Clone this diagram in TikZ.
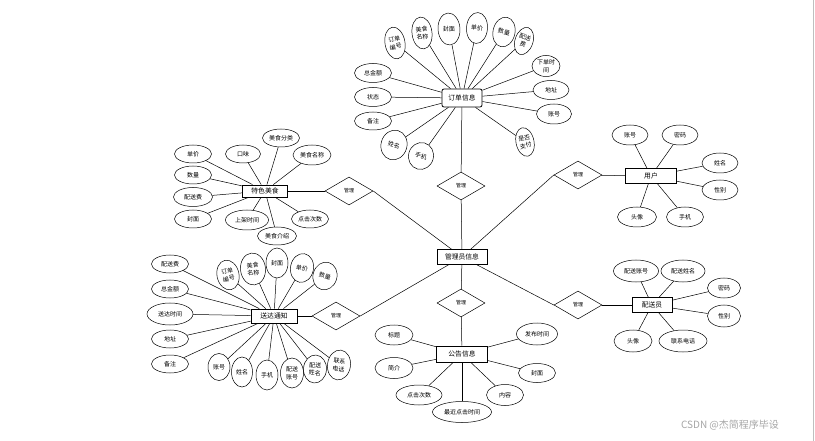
\documentclass[tikz,border=0pt]{standalone}
\usepackage{fontspec}
\setmainfont{Noto Sans CJK SC}
\usetikzlibrary{shapes.geometric}
\newcommand{\fsa}{\fontsize{6}{7.6}\selectfont}
\newcommand{\fsb}{\fontsize{5}{6}\selectfont}
\newcommand{\fsc}{\fontsize{6.8}{8}\selectfont}
\tikzset{
  sz/.style 2 args={minimum width=#1pt, minimum height=#2pt},
  attr/.style={ellipse, draw, line width=0.5pt, inner sep=0pt, align=center, font=\fsa},
  ent/.style={rectangle, draw, line width=0.8pt, inner sep=0pt, font=\fsc},
  rel/.style={diamond, draw, line width=0.5pt, inner sep=0pt, minimum width=48pt, minimum height=28pt, font=\fsb},
  link/.style={line width=0.5pt},
}
\begin{document}
\begin{tikzpicture}[x=1pt,y=-1pt]
\useasboundingbox (0,0) rectangle (815,441);
\fill[white] (0,0) rectangle (815,441);
\draw[black!25, line width=1pt] (813,0) -- (813,441);

% central entity and relations
\node[ent, sz={50}{15}] (M) at (462,257) {管理员信息};
\node[rel] (rT) at (461,186) {管理};
\node[rel] (rB) at (461,303) {管理};
\node[rel] (rL1) at (349,191) {管理};
\node[rel] (rL2) at (336,316) {管理};
\node[rel] (rR1) at (578,175) {管理};
\node[rel] (rR2) at (578,305) {管理};

% entities
\node[ent, sz={40}{18}, rounded corners=2pt] (O) at (462,98) {订单信息};
\node[ent, sz={45}{12}] (F) at (265,191) {特色美食};
\node[ent, sz={46}{14}] (S) at (274,316) {送达通知};
\node[ent, sz={51}{16}] (G) at (462,354) {公告信息};
\node[ent, sz={51}{15}] (U) at (651,176) {用户};
\node[ent, sz={40}{15}] (P) at (652,305) {配送员};

% order attributes
\node[attr, sz={20}{32}, rotate=10] (o1) at (395,43) {订单\\编号};
\node[attr, sz={20}{32}, rotate=7] (o2) at (422,33) {美食\\名称};
\node[attr, sz={22}{32}, rotate=4] (o3) at (449,29) {封面};
\node[attr, sz={21}{31}, rotate=-4] (o4) at (477,28) {单价};
\node[attr, sz={22}{30}, rotate=-12] (o5) at (504,32) {数量};
\node[attr, sz={18}{28}, rotate=-18] (o6) at (524,41) {配送\\费};
\node[attr, sz={28}{21}] (o7) at (546,66) {下单时\\间};
\node[attr, sz={36}{19}] (o8) at (551,90) {地址};
\node[attr, sz={35}{20}] (o9) at (554,114) {账号};
\node[attr, sz={18}{29}, rotate=12] (o10) at (525,142) {是否\\支付};
\node[attr, sz={25}{27}, rotate=-15] (o11) at (421,156) {手机};
\node[attr, sz={26}{30}, rotate=-15] (o12) at (394,145) {姓名};
\node[attr, sz={37}{18}] (o13) at (373,121) {备注};
\node[attr, sz={37}{19}] (o14) at (373,97) {状态};
\node[attr, sz={37}{19}] (o15) at (373,73) {总金额};
\foreach \i in {1,...,15} \draw[link] (O) -- (o\i);

% food attributes
\node[attr, sz={37}{18}] (f1) at (193,154) {单价};
\node[attr, sz={35}{18}] (f2) at (243,154) {口味};
\node[attr, sz={37}{18}] (f3) at (281,138) {美食分类};
\node[attr, sz={38}{20}] (f4) at (312,155) {美食名称};
\node[attr, sz={37}{18}] (f5) at (193,175) {数量};
\node[attr, sz={39}{19}] (f6) at (193,197) {配送费};
\node[attr, sz={37}{18}] (f7) at (193,219) {封面};
\node[attr, sz={43}{20}] (f8) at (247,220) {上架时间};
\node[attr, sz={39}{18}] (f9) at (277,236) {美食介绍};
\node[attr, sz={37}{18}] (f10) at (310,219) {点击次数};
\foreach \i in {1,...,10} \draw[link] (F) -- (f\i);

% delivery notice attributes
\node[attr, sz={37}{18}] (s1) at (170,264) {配送费};
\node[attr, sz={37}{18}] (s2) at (170,289) {总金额};
\node[attr, sz={46}{22}] (s3) at (170,314) {送达时间};
\node[attr, sz={37}{18}] (s4) at (170,339) {地址};
\node[attr, sz={37}{18}] (s5) at (170,364) {备注};
\node[attr, sz={22}{30}, rotate=12] (s6) at (228,275) {订单\\编号};
\node[attr, sz={25}{32}, rotate=6] (s7) at (253,269) {美食\\名称};
\node[attr, sz={22}{30}] (s8) at (277,263) {封面};
\node[attr, sz={23}{29}, rotate=-10] (s9) at (302,268) {单价};
\node[attr, sz={24}{28}, rotate=-15] (s10) at (325,276) {数量};
\node[attr, sz={22}{27}] (s11) at (219,367) {账号};
\node[attr, sz={21}{30}] (s12) at (242,372) {姓名};
\node[attr, sz={22}{30}] (s13) at (267,375) {手机};
\node[attr, sz={23}{30}] (s14) at (292,373) {配送\\账号};
\node[attr, sz={23}{28}, rotate=-4] (s15) at (315,369) {配送\\姓名};
\node[attr, sz={23}{30}, rotate=-8] (s16) at (339,365) {联系\\电话};
\foreach \i in {1,...,16} \draw[link] (S) -- (s\i);

% notice attributes
\node[attr, sz={38}{20}] (g1) at (394,335) {标题};
\node[attr, sz={38}{21}] (g2) at (394,368) {简介};
\node[attr, sz={46}{20}] (g3) at (419,395) {点击次数};
\node[attr, sz={59}{21}] (g4) at (462,412) {最近点击时间};
\node[attr, sz={37}{21}] (g5) at (505,395) {内容};
\node[attr, sz={37}{19}] (g6) at (537,373) {封面};
\node[attr, sz={41}{22}] (g7) at (537,334) {发布时间};
\foreach \i in {1,...,7} \draw[link] (G) -- (g\i);

% user attributes
\node[attr, sz={36}{20}] (u1) at (630,135) {账号};
\node[attr, sz={36}{20}] (u2) at (680,135) {密码};
\node[attr, sz={36}{20}] (u3) at (720,163) {姓名};
\node[attr, sz={36}{20}] (u4) at (720,190) {性别};
\node[attr, sz={39}{20}] (u5) at (637,217) {头像};
\node[attr, sz={37}{20}] (u6) at (685,217) {手机};
\foreach \i in {1,...,6} \draw[link] (U) -- (u\i);

% courier attributes
\node[attr, sz={45}{22}] (p1) at (636,271) {配送账号};
\node[attr, sz={44}{22}] (p2) at (683,271) {配送姓名};
\node[attr, sz={33}{20}] (p3) at (724,288) {密码};
\node[attr, sz={33}{22}] (p4) at (724,316) {性别};
\node[attr, sz={38}{22}] (p5) at (633,341) {头像};
\node[attr, sz={48}{22}] (p6) at (683,341) {联系电话};
\foreach \i in {1,...,6} \draw[link] (P) -- (p\i);

% relationships
\draw[link] (M) -- (rT);
\draw[link] (rT) -- (O);
\draw[link] (M) -- (rB);
\draw[link] (rB) -- (G);
\draw[link] (M) -- (rL1.east);
\draw[link] (rL1) -- (F);
\draw[link] (M) -- (rL2.east);
\draw[link] (rL2) -- (S);
\draw[link] (M) -- (rR1.west);
\draw[link] (rR1) -- (U);
\draw[link] (M) -- (rR2.west);
\draw[link] (rR2) -- (P);

% watermark
\node[text=black!35, font=\fontsize{10}{12}\selectfont, inner sep=0pt] (wm) at (730,425) {CSDN @杰简程序毕设};
\end{tikzpicture}
\end{document}
